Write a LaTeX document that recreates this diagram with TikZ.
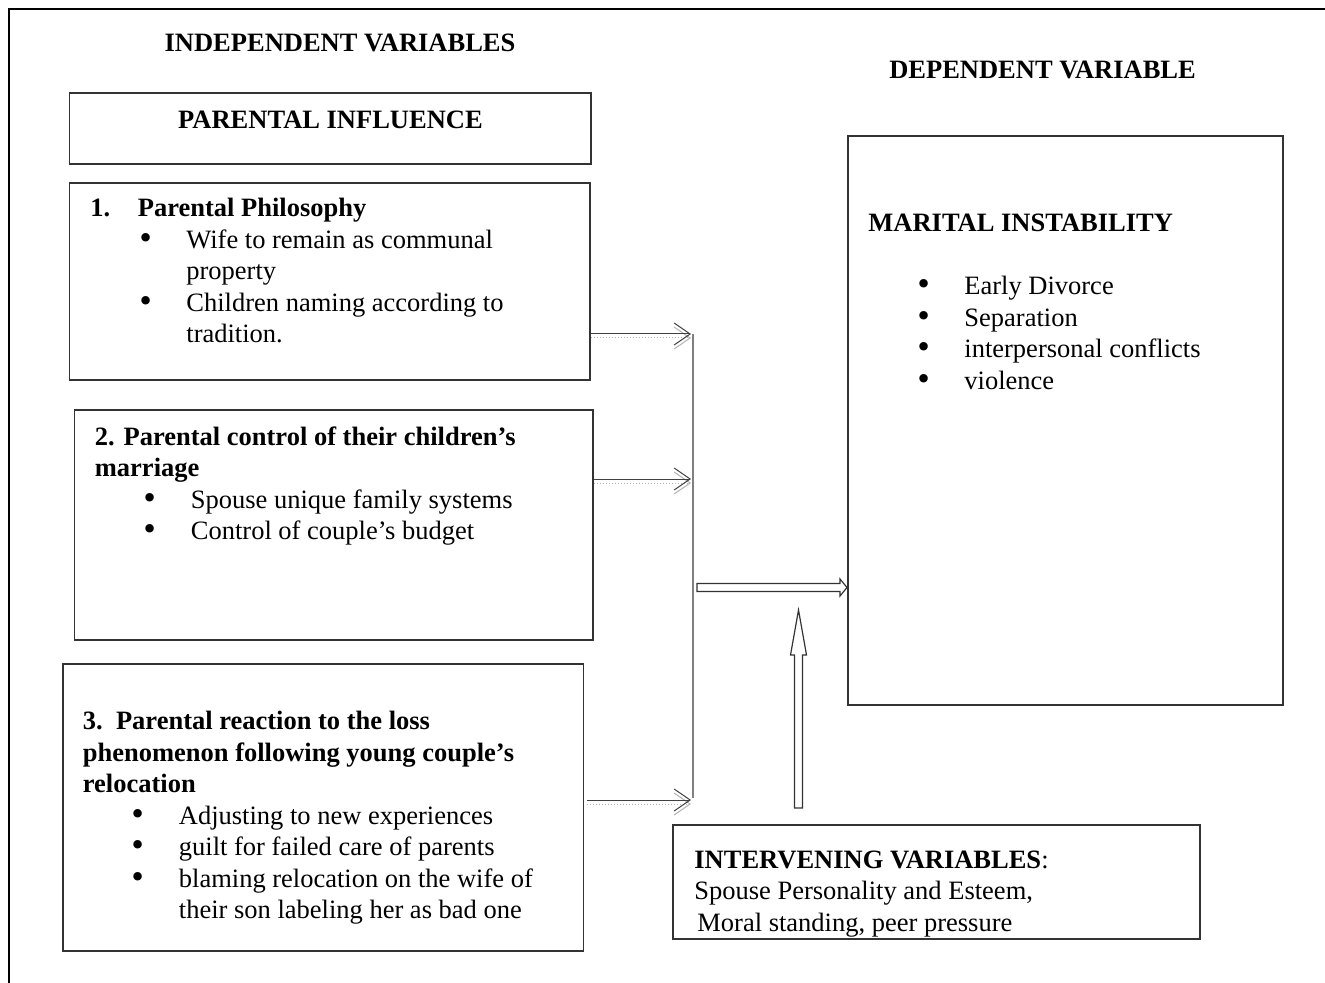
\documentclass[tikz,border=0pt]{standalone}
\usepackage{fontspec}
\setmainfont{Liberation Serif}
\newfontfamily\bulfont{DejaVu Sans}
\usetikzlibrary{arrows.meta,fit}
\newcommand{\bigbul}{{\bulfont\fontsize{14.5pt}{15.75pt}\selectfont\char"2022}}
\newcommand{\bitem}[1]{\hspace*{23.5pt}\makebox[24.5pt][l]{\bigbul}#1}
\newcommand{\bcont}[1]{\hspace*{48pt}#1}
\begin{document}
\begin{tikzpicture}[x=0.5pt,y=-0.5pt,
    box/.style={draw=black!80,line width=0.7pt,inner sep=0pt},
    txt/.style={anchor=base west,inner sep=0pt,font=\fontsize{13.25pt}{15.75pt}\selectfont},
    head/.style={anchor=base,inner sep=0pt,font=\fontsize{13.25pt}{15.75pt}\selectfont\bfseries},
    feed/.style={draw=black!75,line width=0.5pt,-{Straight Barb[length=8pt,width=11pt]}},
    feedshadow/.style={draw=black!30,line width=0.5pt,densely dotted,-{Straight Barb[length=8pt,width=11pt]},transform canvas={yshift=-2pt}},
    bus/.style={draw=black!50,line width=1pt},
    block/.style={draw=black!80,line width=0.6pt,fill=white}]
  \useasboundingbox (0,0) rectangle (1325,983);
  % frame
  \draw[line width=1pt] (1325,9) -- (9,9) -- (9,983);
  % headings
  \node[head] (indep) at (340,52) {INDEPENDENT VARIABLES};
  \node[head] (dep) at (1042.5,79) {DEPENDENT VARIABLE};
  % boxes
  \node[box,fit={(69.5,93) (591,164)}] (infl) {};
  \node[box,fit={(69.5,183) (590,380)}] (phil) {};
  \node[box,fit={(74.5,410) (593,640)}] (ctrl) {};
  \node[box,fit={(63,664) (583.5,951)}] (react) {};
  \node[box,fit={(848,136) (1283,705)}] (instab) {};
  \node[box,fit={(673,825) (1200,939)}] (interv) {};
  % texts
  \node[head] (infltext) at (330.5,129) {PARENTAL INFLUENCE};
  \node[txt] (philtext) at (90,217) {\parbox[t]{250pt}{%
    \makebox[23.75pt][l]{\textbf{1.}}\textbf{Parental Philosophy}\\
    \bitem{Wife to remain as communal}\\
    \bcont{property}\\
    \bitem{Children naming according to}\\
    \bcont{tradition.}}};
  \node[txt] (ctrltext) at (94.5,445) {\parbox[t]{250pt}{%
    \textbf{2. Parental control of their children’s}\\
    \textbf{marriage}\\
    \bitem{Spouse unique family systems}\\
    \bitem{Control of couple’s budget}}};
  \node[txt] (reacttext) at (82.5,729.5) {\parbox[t]{250pt}{%
    \textbf{3.\ \ Parental reaction to the loss}\\
    \textbf{phenomenon following young couple’s}\\
    \textbf{relocation}\\
    \bitem{Adjusting to new experiences}\\
    \bitem{guilt for failed care of parents}\\
    \bitem{blaming relocation on the wife of}\\
    \bcont{their son labeling her as bad one}}};
  \node[txt] (instabtext) at (868,232) {\parbox[t]{210pt}{%
    \textbf{MARITAL INSTABILITY}\\[15.75pt]
    \bitem{Early Divorce}\\
    \bitem{Separation}\\
    \bitem{interpersonal conflicts}\\
    \bitem{violence}}};
  \node[txt] (intervtext) at (694,868) {\parbox[t]{250pt}{%
    \textbf{INTERVENING VARIABLES}:\\
    Spouse Personality and Esteem,\\
    \hspace*{1.5pt}Moral standing, peer pressure}};
  % feeders into the bus
  \coordinate (bus1) at (691,334);
  \coordinate (bus2) at (691,479);
  \coordinate (bus3) at (691,800);
  \draw[bus] (693,334) -- (693,798);
  \draw[feedshadow] (phil.east |- bus1) -- (bus1);
  \draw[feedshadow] (ctrl.east |- bus2) -- (bus2);
  \draw[feedshadow] (587,800) -- (bus3);
  \draw[feed] (phil.east |- bus1) -- (bus1);
  \draw[feed] (ctrl.east |- bus2) -- (bus2);
  \draw[feed] (587,800) -- (bus3);
  % block arrows
  \draw[block] (697,583.5) -- (840,583.5) -- (840,579) -- (847,587.5) -- (840,596)
    -- (840,591.5) -- (697,591.5) -- cycle;
  \draw[block] (794.5,808) -- (794.5,655) -- (790.5,655) -- (798.5,610) -- (806.5,655)
    -- (802.5,655) -- (802.5,808) -- cycle;
\end{tikzpicture}
\end{document}
